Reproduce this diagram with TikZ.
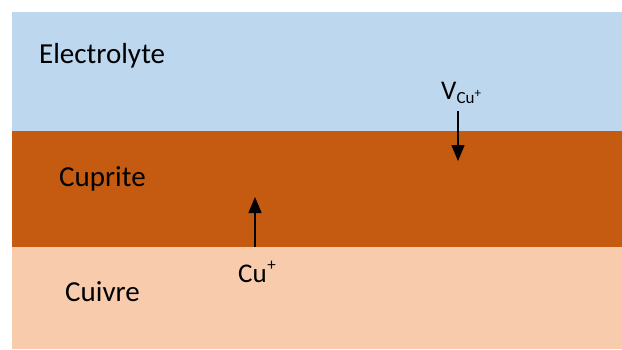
\documentclass[tikz,border=0pt]{standalone}
\usepackage{fontspec}
\setmainfont{Carlito}
\usetikzlibrary{arrows.meta}
\definecolor{electrolyte}{HTML}{BDD7EE}
\definecolor{cuprite}{HTML}{C55A11}
\definecolor{cuivre}{HTML}{F8CBAD}
\tikzset{
  layerlabel/.style={anchor=base west,inner sep=0pt,font=\fontsize{29}{34}\selectfont},
  flux/.style={line width=1.5pt,-{Triangle[length=16pt,width=13pt]}}
}
\begin{document}
\begin{tikzpicture}[x=1pt,y=-1pt]
\useasboundingbox (0,0) rectangle (622,349);
% Corners of the layers
\coordinate (topleft) at (12,12);
\coordinate (ecorner) at (622,131);
\coordinate (cleft) at (12,131);
\coordinate (ccorner) at (622,247);
\coordinate (bleft) at (12,247);
\coordinate (bcorner) at (622,349);
% Draw the three layers
\fill[electrolyte] (topleft) rectangle (ecorner);
\fill[cuprite] (cleft) rectangle (ccorner);
\fill[cuivre] (bleft) rectangle (bcorner);
% Names of the layers
\node[layerlabel] (elec) at (39,63) {Electrolyte};
\node[layerlabel] (cupr) at (59,186) {Cuprite};
\node[layerlabel] (cuiv) at (65,301) {Cuivre};
% Copper ion going up
\node[layerlabel,font=\fontsize{27}{30}\selectfont] (cuion) at (238,282) {Cu\kern0.5pt\raisebox{0.42em}{\fontsize{17}{20}\selectfont +}};
\coordinate (cufoot) at (255,247);
\coordinate (cutip) at (255,197);
\draw[flux] (cufoot) -- (cutip);
% Vacancy going down
\node[layerlabel,font=\fontsize{27}{30}\selectfont] (vac) at (441,99) {V\raisebox{-0.15em}{\fontsize{17}{20}\selectfont Cu\raisebox{0.3em}{\fontsize{13}{14}\selectfont +}}};
\coordinate (vfoot) at (458,111);
\coordinate (vtip) at (458,161);
\draw[flux] (vfoot) -- (vtip);
\end{tikzpicture}
\end{document}
